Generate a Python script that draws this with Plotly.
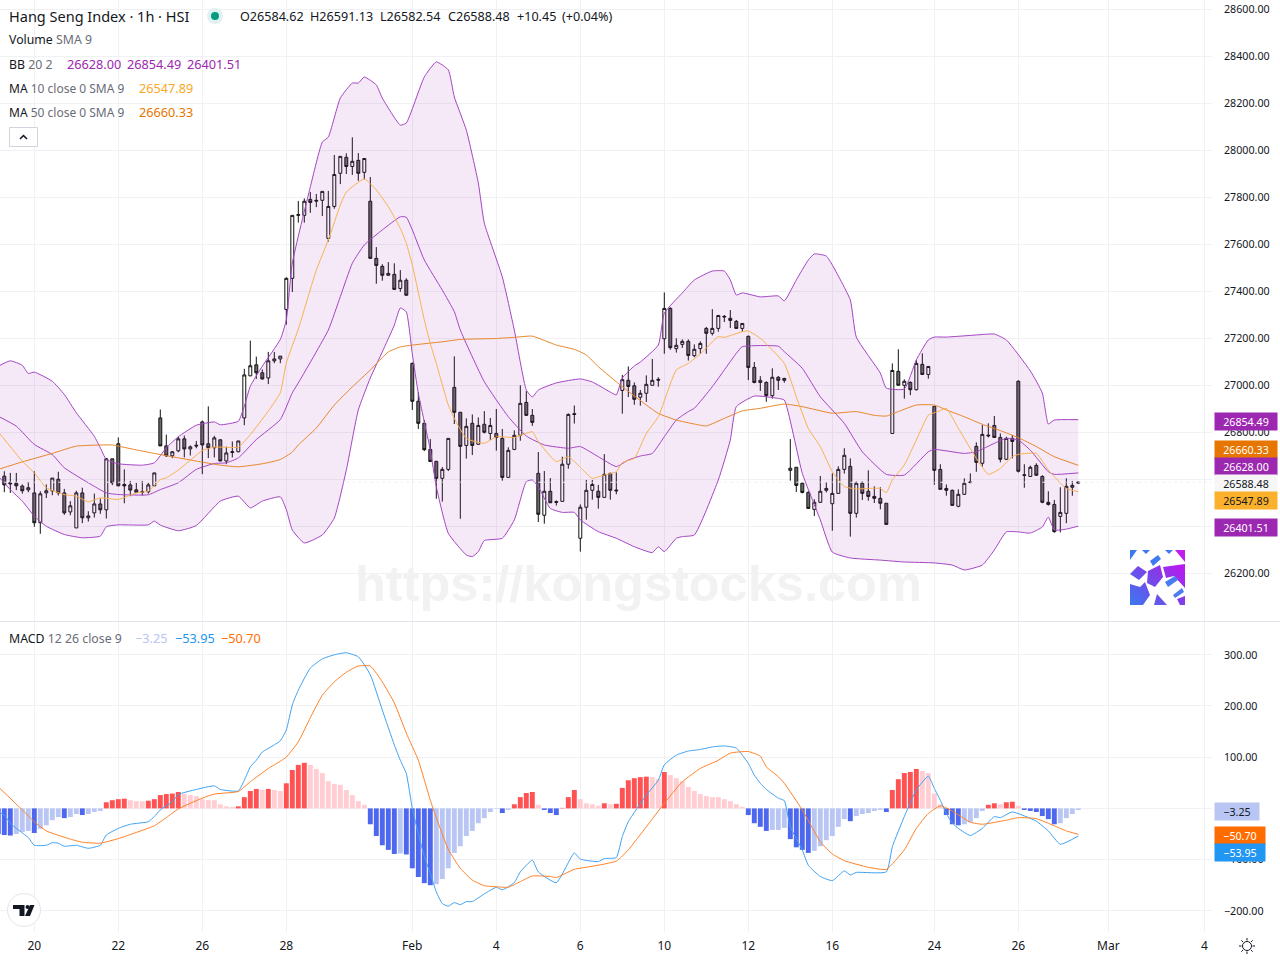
import base64, math
import plotly.graph_objects as go

open_ = [26614,26586,26584,26572,26556,26543,26416,26543,26552,26601,
26543,26462,26394,26543,26437,26458,26496,26471,26688,26752,
26579,26577,26556,26548,26548,26573,26862,26743,26701,26722,
26773,26730,26746,26845,26752,26735,26769,26679,26715,26718,
26862,27041,27088,27054,27032,27105,27113,27324,27456,27724,
27724,27792,27788,27788,27626,27762,27903,27971,27932,27958,
27907,27784,27541,27507,27469,27473,27413,27448,27094,26933,
26839,26728,26677,26605,26643,26992,26886,26745,26839,26750,
26835,26796,26796,26775,26609,26728,26788,26928,26873,26626,
26448,26550,26506,26507,26665,26880,26350,26482,26554,26550,
26524,26626,26555,26979,27022,26999,26950,26967,27001,27026,
27199,27328,27157,27175,27188,27127,27157,27243,27222,27243,
27291,27286,27273,27243,27209,27077,27013,27013,26957,27035,
27022,26639,26652,26584,26545,26473,26503,26554,26497,26541,
26643,26656,26456,26584,26550,26528,26520,26499,26796,27060,
27001,27013,26982,27090,27047,26911,26643,26562,26554,26486,
26537,26587,26741,26669,26789,26830,26779,26686,26775,27018,
26620,26613,26660,26613,26503,26494,26443,26456,26567,26584.62]
close = [26577,26582,26573,26552,26565,26416,26539,26552,26606,26543,
26458,26488,26543,26437,26445,26496,26471,26688,26586,26573,
26573,26555,26546,26546,26577,26628,26743,26701,26718,26773,
26730,26739,26743,26747,26735,26777,26679,26713,26718,26764,
27045,27084,27054,27028,27105,27113,27125,27456,27724,27727,
27784,27779,27785,27826,27762,27898,27975,27932,27954,27903,
27966,27541,27511,27469,27477,27409,27448,27384,26933,26839,
26727,26677,26605,26643,26775,26886,26741,26826,26745,26830,
26801,26830,26779,26609,26724,26788,26924,26873,26843,26452,
26550,26501,26503,26665,26877,26877,26482,26554,26579,26524,
26622,26554,26552,27025,26996,26941,26967,27005,27022,27023,
27328,27161,27171,27188,27128,27154,27179,27222,27243,27298,
27294,27277,27243,27264,27077,27013,27022,26957,27035,27022,
27030,26648,26575,26545,26477,26503,26550,26562,26541,26643,
26703,26456,26584,26541,26528,26520,26499,26409,27064,27001,
27018,26982,27094,27047,27081,26639,26558,26554,26490,26537,
26584,26589,26673,26792,26786,26779,26686,26775,26762,26635,
26618,26652,26618,26503,26494,26378,26460,26571,26575,26588.48]
high = [26635,26628,26628,26579,26590,26635,26550,26579,26606,26633,
26560,26508,26552,26565,26465,26540,26519,26692,26688,26779,
26643,26594,26586,26594,26586,26628,26898,26791,26721,26782,
26787,26745,26764,26851,26911,26786,26770,26740,26762,26764,
27071,27191,27123,27068,27143,27143,27125,27460,27724,27785,
27796,27823,27815,27826,27828,27981,27975,27988,28056,27989,
27966,27887,27589,27516,27525,27520,27491,27456,27098,26971,
26853,26772,26680,26653,26775,27124,26887,26860,26877,26864,
26891,26862,26900,26815,26737,26809,27001,26976,26900,26717,
26636,26606,26511,26697,26881,26915,26494,26598,26598,26577,
26708,26629,26630,27045,27081,27013,26981,27043,27113,27035,
27396,27333,27201,27196,27196,27175,27188,27249,27325,27298,
27300,27321,27279,27264,27213,27100,27040,27018,27073,27040,
27033,26772,26652,26588,26550,26516,26615,26589,26626,26656,
26733,26690,26592,26592,26639,26571,26567,26499,27094,27154,
27026,27018,27108,27137,27081,26911,26665,26579,26557,26558,
26605,26626,26758,26832,26839,26870,26796,26782,26789,27022,
26665,26659,26669,26618,26550,26513,26567,26605,26594,26591.13]
low = [26546,26543,26555,26540,26546,26399,26369,26521,26533,26532,
26450,26448,26394,26414,26421,26438,26454,26434,26576,26572,
26499,26529,26543,26532,26540,26572,26742,26696,26691,26716,
26694,26702,26733,26623,26691,26694,26677,26665,26694,26716,
26831,27040,27028,27025,27006,27095,27095,27259,27398,27693,
27693,27735,27759,27721,27612,27752,27857,27900,27896,27871,
27877,27541,27433,27446,27467,27409,27399,27384,26896,26815,
26721,26674,26518,26506,26636,26836,26433,26689,26704,26747,
26796,26768,26723,26595,26608,26725,26765,26870,26828,26419,
26412,26501,26489,26506,26646,26838,26293,26429,26514,26476,
26523,26514,26537,26880,26951,26918,26914,26930,26999,26995,
27135,27152,27140,27160,27106,27120,27135,27135,27213,27229,
27270,27245,27242,27229,27023,27009,26977,26931,26944,26981,
27012,26595,26547,26541,26476,26445,26501,26545,26382,26540,
26625,26357,26438,26513,26510,26500,26473,26409,26796,27001,
26944,26959,26979,27047,27029,26578,26558,26531,26489,26482,
26534,26584,26633,26655,26779,26778,26673,26683,26690,26630,
26565,26612,26616,26499,26489,26374,26375,26414,26531,26582.54]

bb_upper_i = [-1,1,3,4,5,8,10,12,15,16,17,19,23,25,27,29,32,35,36,39,40,41,43,46,47,48,51,53,54,56,58,59,60,62,63,66,67,70,72,74,75,77,79,80,83,85,87,88,89,92,96,98,101,102,103,105,106,109,110,113,115,118,120,121,122,123,126,129,130,132,134,135,137,138,141,142,146,147,150,152,154,155,157,162,165,167,171,173,174,175,179]
bb_upper_v = [27082,27105,27086,27051,27057,27018,26962,26884,26784,26735,26685,26667,26661,26671,26735,26782,26831,26845,26833,26848,26912,26997,27082,27196,27279,27521,27845,28036,28057,28223,28287,28287,28313,28279,28223,28108,28117,28313,28377,28343,28228,28087,27862,27691,27462,27236,26981,26951,26981,27011,27028,27015,26972,26960,27032,27083,27100,27172,27308,27394,27449,27487,27487,27449,27385,27394,27377,27381,27360,27449,27534,27560,27551,27513,27364,27206,27053,26989,26985,27109,27194,27206,27206,27215,27219,27194,27062,26968,26836,26853,26854.49]
bb_mid_i = [-1,2,5,8,10,14,17,19,24,26,29,32,35,37,39,42,46,48,49,54,56,58,60,63,66,67,68,70,73,75,76,80,84,87,90,94,96,99,102,104,106,108,110,112,114,115,118,122,123,129,130,133,136,140,143,147,150,154,155,160,162,165,167,169,171,174,175,179]
bb_mid_v = [26869,26827,26749,26706,26650,26586,26543,26536,26535,26557,26586,26643,26668,26671,26692,26770,26855,26969,27011,27236,27378,27520,27598,27662,27718,27716,27662,27534,27406,27314,27236,27016,26867,26785,26747,26733,26740,26697,26655,26683,26700,26711,26782,26853,26889,26903,26995,27137,27165,27167,27144,27073,26952,26839,26718,26622,26619,26718,26728,26711,26718,26754,26775,26768,26725,26633,26622,26628.00]
bb_lower_i = [-1,1,3,5,7,10,13,16,17,19,24,25,26,29,32,36,39,41,43,46,47,48,50,53,55,57,59,61,63,65,66,67,68,69,71,72,74,77,78,79,80,83,85,87,88,89,91,93,95,96,99,102,105,108,109,110,112,113,115,119,121,122,125,129,130,133,136,138,141,146,150,155,158,160,163,165,167,169,171,173,174,175,177,179]
bb_lower_v = [26614,26557,26508,26444,26401,26366,26352,26359,26399,26407,26407,26423,26406,26382,26404,26508,26529,26479,26508,26526,26472,26385,26330,26364,26436,26640,26896,27032,27143,27257,27330,27313,27134,26967,26725,26569,26371,26279,26272,26293,26340,26350,26428,26591,26598,26569,26477,26460,26460,26428,26378,26350,26314,26289,26314,26293,26350,26357,26364,26598,26768,26910,26955,26945,26938,26626,26428,26291,26266,26257,26249,26245,26236,26215,26236,26300,26377,26377,26372,26398,26440,26385,26389,26401.51]
ma10_i = [-1,3,5,7,10,12,14,16,19,22,24,26,27,29,33,35,39,41,44,46,47,49,52,54,56,57,60,62,64,66,67,68,70,71,72,74,75,77,80,82,85,88,89,92,94,96,98,100,102,103,105,107,109,112,114,116,119,120,123,124,126,130,132,134,136,138,140,142,144,146,147,148,150,152,154,155,156,157,159,162,164,166,168,169,172,174,175,177,179]
ma10_v = [26803,26678,26628,26565,26536,26529,26505,26522,26515,26543,26550,26600,26607,26640,26723,26738,26738,26791,26891,26969,27096,27240,27491,27619,27768,27823,27879,27832,27761,27669,27605,27513,27279,27179,27094,26917,26860,26775,26754,26782,26779,26803,26761,26676,26697,26652,26605,26619,26633,26672,26690,26796,26867,27066,27094,27134,27208,27205,27229,27232,27201,27094,26952,26817,26740,26633,26570,26560,26562,26562,26544,26598,26662,26768,26874,26884,26893,26903,26818,26690,26622,26647,26697,26707,26711,26640,26612,26562,26547.89]
ma50_i = [-1,3,8,12,18,19,22,25,29,33,36,39,43,46,48,49,52,55,58,61,64,66,68,73,76,82,85,88,92,95,97,99,103,107,109,112,115,117,120,123,126,130,133,138,142,145,147,149,152,155,157,160,163,166,169,172,175,179]
ma50_v = [26643,26675,26711,26742,26747,26742,26726,26711,26692,26674,26661,26654,26667,26685,26717,26747,26819,26917,26994,27066,27143,27164,27172,27186,27196,27200,27205,27210,27172,27154,27130,27080,26995,26917,26881,26853,26836,26828,26860,26892,26903,26921,26910,26882,26889,26873,26870,26889,26917,26917,26896,26867,26835,26808,26778,26740,26697,26660.33]

hist = [-50,-52,-53,-50,-46,-44,-48,-40,-33,-23,-17,-19,-17,-11,-13,-11,-7,-5,12,16,18,
19,16,14,14,15,18,26,28,29,32,28,26,24,18,16,16,8,4,3,4,
22,34,38,36,38,36,34,49,75,85,89,85,77,69,53,48,46,36,26,14,
7,-31,-54,-72,-81,-89,-88,-90,-117,-134,-146,-150,-148,-138,-117,-87,-74,-54,-44,-29,
-19,-7,-1,-9,-3,8,22,30,32,7,-3,-9,-13,1,22,36,18,10,8,5,
10,8,9,40,55,59,61,62,61,57,71,65,59,53,42,34,28,24,22,22,
18,14,8,3,-13,-29,-36,-44,-42,-42,-38,-60,-76,-81,-87,-83,-74,-62,-54,-36,
-21,-25,-15,-11,-9,-5,-3,-7,36,57,69,71,77,73,69,29,8,-13,-31,-33,
-31,-27,-19,-5,7,10,8,12,13,5,-3,-5,-7,-15,-21,-31,-29,-19,-11,-3.25]
macd_i = [-1,0,1,2,4,5,7,8,9,10,12,14,16,17,19,21,24,25,26,28,29,32,35,36,39,40,41,42,43,45,46,47,48,49,51,53,55,57,59,61,63,65,66,67,68,69,70,71,72,73,74,75,76,77,78,80,82,83,85,86,88,89,92,95,96,99,100,102,103,104,107,109,110,112,114,116,118,120,122,123,124,125,126,127,129,130,131,133,134,136,138,140,141,142,147,148,150,152,154,155,156,157,158,159,161,163,165,166,168,172,174,176,179]
macd_v = [-7,-13,-29,-39,-57,-72,-72,-67,-68,-74,-72,-78,-72,-52,-39,-31,-26,-16,-3,13,27,37,44,37,34,55,81,94,110,124,132,153,202,231,274,292,300,304,296,261,192,124,94,68,0,-49,-94,-127,-163,-186,-191,-184,-188,-182,-182,-167,-154,-159,-145,-124,-101,-124,-145,-87,-99,-104,-98,-96,-55,-26,26,55,85,104,112,115,120,122,118,104,88,65,49,37,20,15,-36,-81,-111,-133,-141,-122,-130,-125,-124,-75,-16,36,63,39,16,-10,-29,-39,-53,-39,-16,-18,-7,-25,-44,-70,-53.95]
signal_i = [-1,3,5,7,11,13,16,19,22,25,27,29,33,35,39,41,44,46,47,49,51,53,55,57,59,61,63,65,67,69,71,72,74,76,78,80,82,84,86,88,91,92,95,98,102,104,107,110,113,116,119,121,124,126,127,129,130,133,136,138,140,144,147,150,152,154,156,158,161,163,167,169,172,175,177,179]
signal_v = [42,-3,-26,-44,-60,-66,-68,-59,-47,-34,-18,-1,20,28,33,52,78,92,100,130,177,221,247,266,278,278,247,206,147,94,16,-18,-80,-117,-140,-151,-153,-154,-143,-132,-133,-135,-119,-113,-103,-81,-36,10,52,78,94,108,111,102,81,62,49,-3,-65,-89,-102,-115,-119,-81,-39,-10,5,-5,-27,-31,-23,-18,-20,-34,-44,-50.70]

x_tick_i = [5,19,33,47,68,82,96,110,124,138,155,169,184,200]
x_tick_text = ["20","22","26","28","Feb","4","6","10","12","16","24","26","Mar","4"]
price_ticks = [26200,26400,26600,26800,27000,27200,27400,27600,27800,28000,28200,28400,28600]
macd_ticks = [-200,-100,0,100,200,300]
macd_tick_text = ["\u2212200.00","\u2212100.00","","100.00","200.00","300.00"]

FONT = "Noto Sans"
GRID = "#f0f1f4"
TXT = "#131722"
GREY = "#6a6d78"
PW, PH = 1212.0, 932.0
def px(x): return x / PW
def py(y): return 1 - y / PH
def smooth(color):
    return dict(color=color, width=1, shape="spline", smoothing=0.45)

n = list(range(len(close)))
hist_x = list(range(-1, len(close)))
fig = go.Figure()
fig.add_trace(go.Scatter(x=bb_upper_i, y=bb_upper_v, mode="lines", line=smooth("#A445C4"), hoverinfo="skip"))
fig.add_trace(go.Scatter(x=bb_lower_i, y=bb_lower_v, mode="lines", line=smooth("#A445C4"), fill="tonexty", fillcolor="rgba(156,39,176,0.105)", hoverinfo="skip"))
fig.add_trace(go.Scatter(x=bb_mid_i, y=bb_mid_v, mode="lines", line=smooth("#A445C4"), hoverinfo="skip"))
fig.add_trace(go.Scatter(x=ma50_i, y=ma50_v, mode="lines", line=smooth("#E8872A"), hoverinfo="skip"))
fig.add_trace(go.Scatter(x=ma10_i, y=ma10_v, mode="lines", line=smooth("#F9B24F"), hoverinfo="skip"))
fig.add_trace(go.Candlestick(x=n, open=open_, high=high, low=low, close=close, whiskerwidth=0,
    increasing=dict(line=dict(color="#111111", width=1), fillcolor="#ffffff"),
    decreasing=dict(line=dict(color="#111111", width=1), fillcolor="#6a6a6a"), hoverinfo="skip"))

colors = []
for k, v in enumerate(hist):
    p = hist[k - 1] if k else 0
    if v >= 0:
        colors.append("#FF5252" if v > p else "#FFCDD2")
    else:
        colors.append("#4D67EE" if v < p else "#B9C6F3")
fig.add_trace(go.Bar(x=hist_x, y=hist, width=0.82, marker=dict(color=colors, line=dict(width=0)), xaxis="x2", yaxis="y2", hoverinfo="skip"))
fig.add_trace(go.Scatter(x=macd_i, y=macd_v, mode="lines", line=smooth("#3FA2F2"), xaxis="x2", yaxis="y2", hoverinfo="skip"))
fig.add_trace(go.Scatter(x=signal_i, y=signal_v, mode="lines", line=smooth("#FF8126"), xaxis="x2", yaxis="y2", hoverinfo="skip"))

ann = []
def label(x, y, text, size=12, color=TXT, **kw):
    ann.append(dict(xref="paper", yref="paper", x=px(x - 2), y=py(y), text=text, showarrow=False, xanchor="left", yanchor="middle",
                    font=dict(family=FONT, size=size, color=color), **kw))
def tag(x0, y0, w, h, text, bg, color):
    ann.append(dict(xref="paper", yref="paper", x=px(x0), y=py(y0), text=text, showarrow=False, xanchor="left", yanchor="top",
                    width=w, height=h, align="center", valign="middle", bgcolor=bg, borderpad=0,
                    font=dict(family=FONT, size=10.7, color=color)))

label(9, 16, "Hang Seng Index \u00b7 1h \u00b7 HSI", size=14.5)
for x, t in [(240, "O26584.62"), (310, "H26591.13"), (380, "L26582.54"), (448, "C26588.48"), (517, "+10.45"), (562, "(+0.04%)")]:
    label(x, 16, t, size=12.6)
label(9, 40, f'Volume <span style="color:{GREY}">SMA 9</span>', size=12.3)
label(9, 64, f'BB <span style="color:{GREY}">20 2</span>', size=12.3)
for x, t in [(67, "26628.00"), (127, "26854.49"), (187, "26401.51")]:
    label(x, 64, t, size=12.7, color="#9C27B0")
label(9, 88, f'MA <span style="color:{GREY}">10 close 0 SMA 9</span>', size=12)
label(139, 88, "26547.89", size=12.7, color="#F9A825")
label(9, 112.5, f'MA <span style="color:{GREY}">50 close 0 SMA 9</span>', size=12)
label(139, 112, "26660.33", size=12.7, color="#E67600")
label(9, 638, f'MACD <span style="color:{GREY}">12 26 close 9</span>', size=12.3)
for x, t, c in [(135, "\u22123.25", "#B9C6F3"), (175, "\u221253.95", "#2196F3"), (221, "\u221250.70", "#FF6D00")]:
    label(x, 638, t, size=12.7, color=c)
ann.append(dict(xref="paper", yref="paper", x=px(638.5), y=py(583), text="<b>https://kongstocks.com</b>", showarrow=False,
                xanchor="center", yanchor="middle", font=dict(family="Liberation Sans", size=50.5, color="#f2f2f2")))

tag(1214, 412, 62, 17, "26854.49", "#9C27B0", "#ffffff")
tag(1214, 440, 62, 17, "26660.33", "#E67600", "#ffffff")
tag(1214, 457, 62, 17, "26628.00", "#9C27B0", "#ffffff")
tag(1214, 474, 62, 17, "26588.48", "#f6f6f6", TXT)
tag(1214, 491, 62, 17, "26547.89", "#FBB12B", TXT)
tag(1214, 518, 62, 17, "26401.51", "#9C27B0", "#ffffff")
tag(1214, 802, 44, 17, "\u22123.25", "#B9C6F3", TXT)
tag(1214, 826, 50, 17, "\u221250.70", "#FF6D00", "#ffffff")
tag(1214, 843, 50, 17, "\u221253.95", "#2196F3", "#ffffff")

def rect(x0, y0, x1, y1, **kw):
    return dict(type="rect", xref="paper", yref="paper", x0=px(x0), y0=py(y0), x1=px(x1), y1=py(y1), **kw)
def circle(cx, cy, r, **kw):
    return dict(type="circle", xref="paper", yref="paper", x0=px(cx - r), y0=py(cy - r), x1=px(cx + r), y1=py(cy + r), **kw)
def poly(points, **kw):
    d = "M" + " L".join(f"{px(a):.6f},{py(b):.6f}" for a, b in points)
    return dict(type="path", xref="paper", yref="paper", path=d, **kw)

shapes = [
    dict(type="line", xref="paper", yref="paper", x0=0, x1=px(1280), y0=py(621.5), y1=py(621.5), line=dict(color="#e0e3eb", width=1)),
    dict(type="line", xref="x", yref="y", x0=-1, x1=201.3, y0=close[-1], y1=close[-1], line=dict(color="#efeff3", width=1, dash="dot")),
    circle(215, 16, 8, fillcolor="#dff2ef", line=dict(width=0)),
    circle(215, 16, 4, fillcolor="#089981", line=dict(width=0)),
    rect(9.5, 127.5, 37.5, 146.5, fillcolor="#ffffff", line=dict(color="#d1d4dc", width=1)),
    poly([(20, 139), (23.5, 135.5), (27, 139)], line=dict(color=TXT, width=1.5)),
    circle(24, 910, 16.5, fillcolor="#ffffff", line=dict(color="#e3e5ea", width=1)),
    poly([(13, 905), (24.5, 905), (24.5, 916), (19.5, 916), (19.5, 909), (13, 909), (13, 905)], fillcolor="#131722", line=dict(width=0)),
    circle(27.5, 907, 2, fillcolor="#131722", line=dict(width=0)),
    poly([(30, 905), (34.5, 905), (30, 916), (25, 916), (30, 905)], fillcolor="#131722", line=dict(width=0)),
    circle(1247, 946, 4.5, line=dict(color=TXT, width=1)),
]
for k in range(8):
    a = k * math.pi / 4
    shapes.append(poly([(1247 + 5.5 * math.cos(a), 946 + 5.5 * math.sin(a)), (1247 + 8 * math.cos(a), 946 + 8 * math.sin(a))], line=dict(color=TXT, width=1)))

svg = """<svg xmlns='http://www.w3.org/2000/svg' width='55' height='55' viewBox='0 0 55 55'>
<defs><linearGradient id='g' gradientUnits='userSpaceOnUse' x1='0' y1='55' x2='55' y2='0'><stop offset='0' stop-color='#3b78f0'/><stop offset='0.5' stop-color='#7f3fe8'/><stop offset='0.8' stop-color='#b51cf0'/><stop offset='1' stop-color='#c81cf0'/></linearGradient>
<linearGradient id='h' gradientUnits='userSpaceOnUse' x1='0' y1='0' x2='55' y2='30'><stop offset='0' stop-color='#3b78f0'/><stop offset='1' stop-color='#4a7cf0'/></linearGradient></defs>
<rect width='55' height='55' fill='#fff'/>
<g fill='url(#g)'>
<polygon points='45,0 55,0 55,12'/>
<polygon points='8,16 17,22 9,30 0,24'/>
<polygon points='18,21 30,15 33,27 25,37 17,33'/>
<polygon points='33,17 55,14 55,38 44,26 36,28'/>
<polygon points='0,34 10,37 15,32 20,45 13,55 0,55'/>
<polygon points='27,44 37,55 24,55'/>
<polygon points='47,49 55,46 55,55 50,55'/>
</g>
<g fill='url(#h)'>
<polygon points='0,0 7,0 0,10'/><polygon points='12,0 20,0 16,4'/><polygon points='35,0 43,0 39,4'/>
<polygon points='20,11 28,5 31,9 23,16'/><polygon points='35,32 45,26 48,30 38,37'/><polygon points='43,45 52,38 54,42 45,48'/>
</g></svg>"""
logo = "data:image/svg+xml;base64," + base64.b64encode(svg.encode()).decode()

fig.update_layout(
    width=1280, height=960, margin=dict(l=0, r=68, t=0, b=28, pad=0), paper_bgcolor="#ffffff", plot_bgcolor="#ffffff",
    showlegend=False, hovermode=False, dragmode=False, barmode="overlay", boxgap=0.3,
    annotations=ann, shapes=shapes,
    images=[dict(source=logo, xref="paper", yref="paper", x=px(1130), y=py(550), sizex=55 / PW, sizey=55 / PH,
                 xanchor="left", yanchor="top", sizing="stretch", layer="above")],
    xaxis=dict(domain=[0, 1], range=[-0.717, 201.28], anchor="y", showticklabels=False, tickvals=x_tick_i, ticks="", showgrid=True,
               gridcolor=GRID, gridwidth=1, zeroline=False, showline=False, rangeslider=dict(visible=False)),
    xaxis2=dict(domain=[0, 1], range=[-0.717, 201.28], anchor="y2", tickmode="array", tickvals=x_tick_i, ticktext=x_tick_text, ticks="",
                showgrid=True, gridcolor=GRID, gridwidth=1, zeroline=False, showline=False, ticklabelstandoff=5,
                tickfont=dict(family=FONT, size=12, color=TXT)),
    yaxis=dict(domain=[(PH - 621) / PH, 1], range=[25997.9, 28640.4], side="right", anchor="x", tickmode="array", tickvals=price_ticks,
               tickformat=".2f", ticks="", gridcolor=GRID, gridwidth=1, zeroline=False, showline=False, ticklabelstandoff=11,
               tickfont=dict(family=FONT, size=10.7, color=TXT)),
    yaxis2=dict(domain=[0, 310 / PH], range=[-241.4, 364], side="right", anchor="x2", tickmode="array", tickvals=macd_ticks,
                ticktext=macd_tick_text, ticks="", gridcolor=GRID, gridwidth=1, zeroline=False, showline=False, ticklabelstandoff=11,
                tickfont=dict(family=FONT, size=10.7, color=TXT)),
)

fig.write_html("out.html", config=dict(displayModeBar=False, staticPlot=True),
               post_script="document.body.style.margin='0';document.documentElement.style.overflow='hidden';")
